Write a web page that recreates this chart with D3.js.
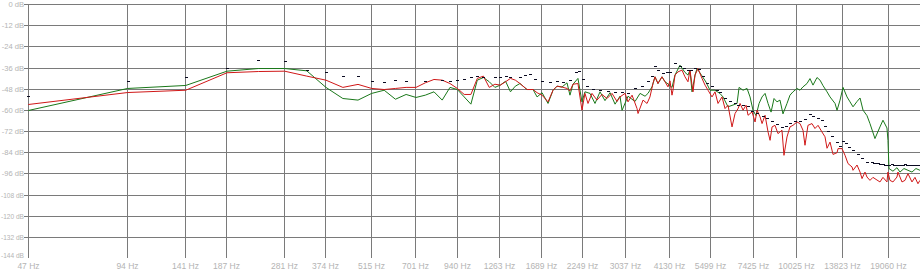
<!DOCTYPE html>
<html>
<head>
<meta charset="utf-8">
<script src="https://cdn.jsdelivr.net/npm/d3@7"></script>
<style>
  body { margin: 0; background: #fff; }
  svg { display: block; }
</style>
</head>
<body>
<div id="chart"></div>
<script>
// axis ticks
const freqTicks = [47, 94, 141, 187, 281, 374, 515, 701, 940, 1263, 1689, 2249, 3037, 4130, 5499, 7425, 10025, 13823, 19060];
const dbTicks = [0, -12, -24, -36, -48, -60, -72, -84, -96, -108, -120, -132, -144];

// green trace
const greenHz = [47, 94, 141, 188, 234, 281, 328, 375, 422, 469, 516, 563, 609, 656, 703, 750, 797, 844, 891, 938,
  984, 1031, 1078, 1125, 1172, 1219, 1266, 1313, 1359, 1406, 1452, 1525, 1591, 1636, 1694, 1766, 1829, 1881, 1947, 2016,
  2058, 2102, 2176, 2238, 2285, 2367, 2451, 2538, 2628, 2722, 2819, 2918, 2960, 3086, 3240, 3356, 3475, 3547, 3648, 3725,
  3803, 3911, 3994, 4078, 4194, 4283, 4434, 4592, 4689, 4755, 4823, 4925, 4994, 5171, 5318, 5468, 5663, 5864, 5988, 6200,
  6420, 6603, 6697, 6886, 7081, 7230, 7383, 7540, 7700, 7862, 8028, 8198, 8372, 8548, 8725, 8909, 9098, 9356, 9554, 9756,
  10032, 10245, 10461, 10757, 10984, 11217, 11535, 11783, 12030, 12371, 12633, 13084, 13266, 13547, 13834, 14224, 14525, 14832, 15252, 15576,
  15905, 16348, 16693, 17286, 17899, 18279, 18795, 18927, 19060, 19599, 20154, 20581, 21164, 21763, 22378, 23007, 23661];
const greenDb = [-60.1, -47.6, -45.9, -37.8, -36.3, -36.3, -37.6, -47.0, -53.3, -54.2, -50.4, -48.6, -53.7, -51.0, -52.7, -51.4, -49.5, -54.2, -47.0, -48.2,
  -52.4, -56.5, -42.9, -41.4, -43.8, -47.0, -45.7, -43.5, -49.5, -46.3, -44.8, -48.2, -48.2, -52.4, -50.0, -56.1, -48.6, -46.3, -46.8, -44.4,
  -51.4, -45.2, -41.9, -55.2, -49.5, -50.4, -56.1, -49.5, -54.5, -50.0, -56.5, -52.0, -60.0, -52.0, -55.0, -50.4, -52.0, -50.4, -46.7, -41.0,
  -44.8, -41.0, -43.8, -45.0, -47.0, -40.0, -34.4, -38.5, -40.0, -37.2, -49.5, -40.0, -36.3, -40.5, -44.0, -48.6, -48.6, -50.5, -52.4, -58.0,
  -57.0, -56.1, -47.0, -48.6, -47.6, -52.4, -60.0, -63.0, -56.1, -52.4, -50.4, -56.1, -61.0, -53.3, -55.2, -54.2, -62.0, -56.1, -51.4, -49.5,
  -47.6, -48.6, -46.7, -44.8, -42.0, -45.7, -41.4, -42.9, -46.0, -49.5, -52.4, -56.1, -60.0, -54.2, -47.0, -52.4, -55.2, -58.0, -55.0, -53.0,
  -59.9, -63.0, -67.5, -76.0, -69.4, -65.6, -70.0, -77.0, -93.0, -94.5, -92.5, -95.0, -93.0, -94.0, -95.0, -93.0, -94.0];

// red trace
const redHz = [47, 94, 141, 188, 234, 281, 328, 375, 422, 469, 516, 563, 609, 656, 703, 750, 797, 844, 891, 938,
  984, 1031, 1078, 1125, 1172, 1219, 1266, 1313, 1359, 1406, 1452, 1525, 1591, 1636, 1694, 1766, 1829, 1881, 1947, 2016,
  2058, 2102, 2176, 2238, 2285, 2334, 2400, 2485, 2573, 2666, 2760, 2858, 2918, 3022, 3086, 3174, 3286, 3309, 3427, 3524,
  3596, 3673, 3725, 3803, 3911, 3994, 4078, 4136, 4194, 4223, 4283, 4373, 4497, 4592, 4689, 4755, 4823, 4857, 4925, 5029,
  5171, 5281, 5393, 5545, 5663, 5782, 5946, 6072, 6200, 6376, 6512, 6650, 6743, 6886, 7032, 7130, 7332, 7487, 7593, 7753,
  7862, 8028, 8198, 8314, 8430, 8606, 8786, 9035, 9162, 9356, 9554, 9756, 10032, 10245, 10461, 10608, 10832, 11139, 11374, 11618,
  11945, 12199, 12371, 12633, 12901, 13266, 13359, 13736, 14028, 14323, 14730, 14832, 15252, 15576, 15794, 16124, 16348, 16693, 17045, 17528,
  17899, 18279, 18795, 18927, 19193, 19599, 20154, 20295, 20871, 21311, 21763, 22378, 22851, 23333, 23661];
const redDb = [-56.7, -49.9, -48.6, -38.7, -38.0, -37.8, -40.6, -42.9, -47.0, -45.3, -47.6, -48.2, -47.6, -47.0, -47.0, -44.4, -42.5, -42.9, -44.8, -47.6,
  -51.0, -51.0, -41.9, -40.6, -47.0, -45.2, -45.7, -43.8, -41.9, -42.9, -44.8, -48.2, -48.2, -50.0, -51.4, -55.2, -48.6, -46.3, -46.8, -47.6,
  -49.0, -45.2, -44.8, -59.9, -50.4, -56.1, -50.4, -54.2, -51.0, -53.3, -50.4, -55.0, -52.4, -50.4, -55.2, -51.4, -59.0, -61.8, -54.2, -56.1,
  -52.4, -44.8, -41.0, -44.8, -41.0, -43.8, -46.7, -43.3, -51.4, -48.6, -40.0, -38.2, -37.2, -41.0, -43.8, -37.2, -45.7, -49.5, -40.0, -36.3,
  -41.9, -45.7, -48.6, -52.4, -49.5, -56.1, -52.4, -59.0, -57.1, -69.4, -61.8, -59.0, -56.1, -59.9, -57.1, -62.8, -60.9, -66.6, -59.9, -63.7,
  -67.5, -62.8, -72.3, -77.0, -69.4, -68.5, -73.2, -71.3, -85.5, -75.1, -69.4, -68.5, -66.6, -67.5, -71.3, -79.8, -68.5, -67.5, -70.3, -68.5,
  -72.3, -75.0, -81.5, -78.0, -85.0, -84.0, -81.7, -81.7, -85.5, -90.2, -92.1, -94.0, -91.0, -95.0, -98.7, -95.0, -97.8, -99.7, -98.0, -99.5,
  -100.6, -98.0, -100.6, -95.0, -99.7, -100.6, -97.8, -95.0, -100.6, -99.7, -95.9, -100.6, -98.0, -101.6, -99.7];

// peak hold markers
const peakHz = [47, 94, 141, 188, 234, 281, 328, 375, 422, 469, 516, 563, 609, 656, 750, 844, 891, 938, 984, 1031,
  1078, 1125, 1219, 1266, 1313, 1359, 1453, 1503, 1556, 1613, 1694, 1791, 1881, 1961, 2058, 2146, 2192, 2254, 2318, 2417,
  2538, 2685, 2819, 2960, 3086, 3240, 3403, 3547, 3648, 3725, 3803, 3939, 4050, 4136, 4283, 4434, 4560, 4689, 4789, 4925,
  5064, 5208, 5355, 5545, 5742, 5864, 6072, 6288, 6512, 6650, 6886, 7130, 7332, 7593, 7917, 8142, 8430, 8725, 9035, 9291,
  9554, 9892, 10245, 10608, 10984, 11217, 11618, 11945, 12199, 12457, 12811, 13266, 13547, 13834, 14126, 14424, 14832, 15359, 15794, 16348,
  16927, 17165, 17406, 17651, 17899, 18279, 18536, 18795, 19060, 19464, 19737, 20015, 20295, 20581, 21016, 21311, 21612, 21915, 22222, 22535,
  22851, 23171, 23333, 23661];
const peakDb = [-52.4, -43.5, -41.4, -36.5, -31.5, -32.1, -37.6, -38.7, -40.6, -40.6, -43.5, -44.0, -42.9, -43.5, -43.8, -43.3, -43.8, -42.9, -42.3, -41.4,
  -41.0, -41.4, -41.4, -41.4, -41.0, -41.4, -41.2, -40.2, -39.5, -42.5, -43.8, -44.4, -43.5, -44.2, -42.9, -38.7, -38.2, -42.5, -46.5, -48.2,
  -48.8, -49.5, -50.0, -50.0, -50.4, -47.6, -46.7, -43.8, -41.0, -35.3, -37.2, -39.0, -38.5, -38.7, -33.6, -35.3, -36.5, -37.2, -37.6, -36.3,
  -37.0, -41.0, -44.8, -46.5, -48.6, -50.0, -53.3, -55.2, -56.1, -57.0, -57.1, -58.0, -60.5, -61.8, -63.7, -64.6, -66.5, -68.0, -70.0, -69.4,
  -67.5, -66.6, -66.5, -65.0, -62.5, -63.5, -64.6, -66.0, -69.4, -72.0, -75.0, -78.5, -80.5, -77.9, -79.0, -80.8, -83.0, -85.0, -87.4, -89.3,
  -89.8, -90.0, -90.2, -90.2, -90.5, -90.8, -91.0, -91.2, -91.0, -90.8, -91.0, -91.2, -91.0, -91.0, -91.2, -90.8, -91.0, -91.2, -91.0, -91.0,
  -91.2, -91.2, -91.0, -91.0];

const width = 920;
const height = 272;
const gridColor = "#7a7a7a";
const labelColor = "#b4b4b4";

const x = d3.scaleLog().domain([47, 24000]).range([28.3, 922]);
const y = d3.scaleLinear().domain([0, -144]).range([4.5, 258.5]);

const svg = d3.select("#chart")
  .append("svg")
  .attr("width", width)
  .attr("height", height)
  .style("font-family", "'Liberation Sans', Arial, sans-serif");

// horizontal grid (no line at the bottom)
svg.append("g")
  .selectAll("line")
  .data(dbTicks.filter((d) => d > -144))
  .enter()
  .append("line")
  .attr("x1", 24)
  .attr("x2", width)
  .attr("y1", (d) => Math.floor(y(d)) + 0.5)
  .attr("y2", (d) => Math.floor(y(d)) + 0.5)
  .attr("stroke", gridColor)
  .attr("shape-rendering", "crispEdges");

// vertical grid
svg.append("g")
  .selectAll("line")
  .data(freqTicks)
  .enter()
  .append("line")
  .attr("x1", (d) => Math.floor(x(d)) + 0.5)
  .attr("x2", (d) => Math.floor(x(d)) + 0.5)
  .attr("y1", Math.floor(y(0)))
  .attr("y2", Math.floor(y(-144)))
  .attr("stroke", gridColor)
  .attr("shape-rendering", "crispEdges");

// y labels, the long ones squeezed so they stay inside the left edge;
// the last one nudged up a little so it clears "47 Hz"
svg.append("g")
  .selectAll("text")
  .data(dbTicks)
  .enter()
  .append("text")
  .attr("x", 24)
  .attr("y", (d) => Math.floor(y(d)) + 0.5 - (d === -144 ? 2.8 : 0))
  .attr("dy", "0.35em")
  .attr("text-anchor", "end")
  .attr("font-size", 7.6)
  .attr("fill", labelColor)
  .attr("textLength", (d) => (d <= -100 ? 23 : null))
  .attr("lengthAdjust", "spacingAndGlyphs")
  .text((d) => d + " dB");

// x labels
svg.append("g")
  .selectAll("text")
  .data(freqTicks)
  .enter()
  .append("text")
  .attr("x", (d) => Math.floor(x(d)) + 0.5)
  .attr("y", 268.5)
  .attr("text-anchor", "middle")
  .attr("font-size", 8.5)
  .attr("fill", labelColor)
  .text((d) => d + " Hz");

const line = d3.line()
  .x((d) => x(d[0]))
  .y((d) => y(d[1]));

svg.append("path")
  .datum(d3.zip(greenHz, greenDb))
  .attr("d", line)
  .attr("fill", "none")
  .attr("stroke", "#1a781a")
  .attr("stroke-width", 1);

svg.append("path")
  .datum(d3.zip(redHz, redDb))
  .attr("d", line)
  .attr("fill", "none")
  .attr("stroke", "#d01818")
  .attr("stroke-width", 1);

// peak markers: short dashes
svg.append("g")
  .selectAll("rect")
  .data(d3.zip(peakHz, peakDb))
  .enter()
  .append("rect")
  .attr("x", (d) => Math.round(x(d[0])) - 1)
  .attr("y", (d) => Math.floor(y(d[1])))
  .attr("width", 3)
  .attr("height", 1)
  .attr("fill", "#0a0a20");
</script>
</body>
</html>
